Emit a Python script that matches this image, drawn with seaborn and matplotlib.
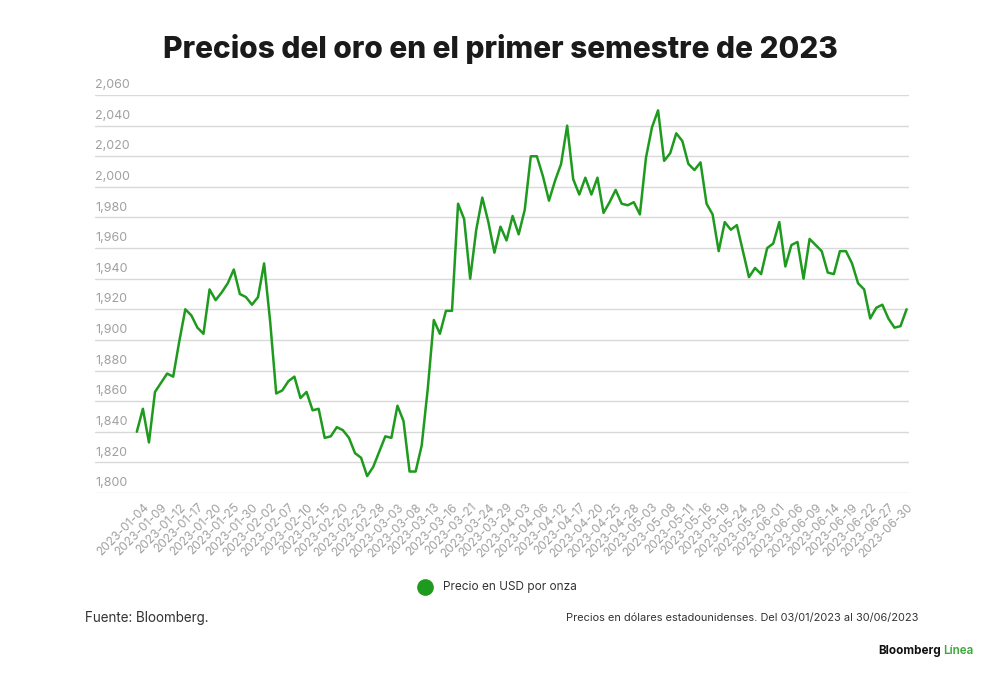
import pandas as pd
import seaborn as sns
import matplotlib.pyplot as plt

# Fechas de negociación (días hábiles, sin Viernes Santo)
fechas = [d.strftime("%Y-%m-%d") for d in pd.bdate_range("2023-01-03", "2023-06-30")
          if d.strftime("%Y-%m-%d") != "2023-04-07"]

precios = [
    1840, 1855, 1833, 1866, 1872, 1878, 1876, 1899, 1920, 1916,
    1908, 1904, 1933, 1926, 1931, 1937, 1946, 1930, 1928, 1923,
    1928, 1950, 1912, 1865, 1867, 1873, 1876, 1862, 1866, 1854,
    1855, 1836, 1837, 1843, 1841, 1836, 1826, 1823, 1811, 1817,
    1827, 1837, 1836, 1857, 1847, 1814, 1814, 1831, 1868, 1913,
    1904, 1919, 1919, 1989, 1979, 1940, 1972, 1993, 1977, 1957,
    1974, 1965, 1981, 1969, 1985, 2020, 2020, 2007, 1991, 2004,
    2015, 2040, 2005, 1995, 2006, 1995, 2006, 1983, 1990, 1998,
    1989, 1988, 1990, 1982, 2019, 2039, 2050, 2017, 2022, 2035,
    2030, 2015, 2011, 2016, 1989, 1982, 1958, 1977, 1972, 1975,
    1958, 1941, 1947, 1943, 1960, 1963, 1977, 1948, 1962, 1964,
    1940, 1966, 1962, 1958, 1944, 1943, 1958, 1958, 1950, 1937,
    1933, 1914, 1921, 1923, 1914, 1908, 1909, 1920,
]

y_ticks = [1800, 1820, 1840, 1860, 1880, 1900, 1920, 1940, 1960, 1980,
           2000, 2020, 2040, 2060]

df = pd.DataFrame({"fecha": fechas, "precio": precios})
df["pos"] = range(len(df))

verde = "#1e9a1e"

sns.set_style("white")
plt.rcParams["font.family"] = ["Inter", "DejaVu Sans"]

fig = plt.figure(figsize=(10, 6.79), dpi=100)
ax = fig.add_axes([0.095, 0.274, 0.814, 0.586])

sns.lineplot(data=df, x="pos", y="precio", color=verde, linewidth=1.8, ax=ax)

ax.set_xlim(-6.9, len(df) - 0.6)
ax.set_ylim(1800, 2060)

# Cuadrícula horizontal
for v in y_ticks:
    ax.axhline(v, color="#d9d9d9", linewidth=1, zorder=0)
    ax.text(0, v + 2.5, f"{v:,}", transform=ax.get_yaxis_transform(),
            ha="left", va="bottom", fontsize=9, color="#a0a0a0")

ax.set_yticks([])
tick_pos = df["pos"][1::3]
ax.set_xticks(tick_pos)
ax.set_xticklabels(df["fecha"][1::3], rotation=45, ha="right",
                   rotation_mode="anchor", fontsize=8.6, color="#a0a0a0")
ax.tick_params(axis="x", length=0, pad=6)
ax.set_xlabel("")
ax.set_ylabel("")
sns.despine(ax=ax, left=True, bottom=True, top=True, right=True)

# Título
fig.text(0.5, 0.928, "Precios del oro en el primer semestre de 2023",
         ha="center", va="center", fontsize=21.5, fontweight="heavy", color="#1a1a1a")

# Leyenda
fig.lines.append(plt.Line2D([0.425], [1 - 587 / 679], marker="o", markersize=11,
                            color=verde, transform=fig.transFigure))
fig.text(0.443, 1 - 587 / 679, "Precio en USD por onza", ha="left", va="center",
         fontsize=8.5, color="#333333")

fig.text(0.085, 1 - 618 / 679, "Fuente: Bloomberg.", ha="left", va="center",
         fontsize=9.7, color="#333333")
fig.text(0.918, 1 - 618 / 679,
         "Precios en dólares estadounidenses. Del 03/01/2023 al 30/06/2023",
         ha="right", va="center", fontsize=7.9, color="#333333")

fig.text(0.941, 1 - 651 / 679, "Bloomberg", ha="right", va="center",
         fontsize=8.4, fontweight="bold", color="#111111")
fig.text(0.943, 1 - 651 / 679, "Línea", ha="left", va="center",
         fontsize=8.4, fontweight="semibold", color="#3aa83a")

fig.savefig("out.png", dpi=100)
